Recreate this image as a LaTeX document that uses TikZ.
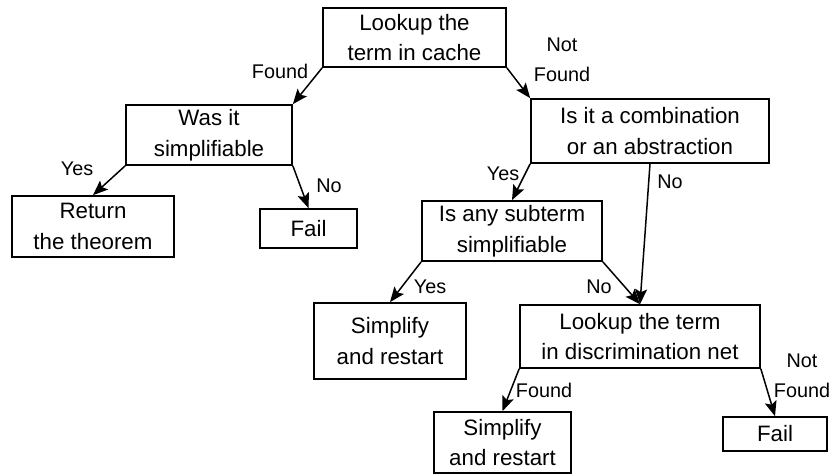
\documentclass[tikz,border=0pt]{standalone}
\usepackage{fontspec}
\setmainfont{Liberation Sans}
\usetikzlibrary{arrows.meta}
\begin{document}
\begin{tikzpicture}[x=1pt,y=-1pt,
  box/.style={draw, line width=1.7pt, align=center, inner sep=0pt, font=\fontsize{22.3}{30.5}\selectfont},
  lbl/.style={font=\fontsize{19.8}{30}\selectfont, inner sep=0pt, align=center},
  arr/.style={line width=1.5pt, -{Stealth[length=15pt,width=12pt,inset=3pt]}},
  ]
\useasboundingbox (0,0) rectangle (833,474);
\node[box, minimum width=183pt, minimum height=59pt] (cache) at (414.5,37.5) {Lookup the\\term in cache};
\node[box, minimum width=166pt, minimum height=60pt] (was) at (209,135) {Was it\\simplifiable};
\node[box, minimum width=162pt, minimum height=61pt] (ret) at (93,226.5) {Return\\the theorem};
\node[box, minimum width=97pt, minimum height=39pt] (failA) at (308.5,228.5) {Fail};
\node[box, minimum width=238pt, minimum height=64pt] (comb) at (650,131) {Is it a combination\\or an abstraction};
\node[box, minimum width=180pt, minimum height=60pt] (sub) at (512,231) {Is any subterm\\simplifiable};
\node[box, minimum width=152pt, minimum height=76pt] (simpA) at (390,341) {Simplify\\and restart};
\node[box, minimum width=240pt, minimum height=63pt] (net) at (640,336.5) {Lookup the term\\in discrimination net};
\node[box, minimum width=137pt, minimum height=61pt] (simpB) at (502.5,442.5) {Simplify\\and restart};
\node[box, minimum width=104pt, minimum height=34pt] (failB) at (775,434) {Fail};

\draw[arr] (cache.south west) -- (was.north east);
\draw[arr] (cache.south east) -- (comb.north west);
\draw[arr] (was.south west) -- (ret.north);
\draw[arr] (was.south east) -- (failA.north);
\draw[arr] (comb.south west) -- (sub.north);
\draw[arr] (comb.south) -- (net.north);
\draw[arr] (sub.south east) -- (net.north);
\draw[arr] (sub.south west) -- (simpA.north);
\draw[arr] (net.south west) -- (simpB.north);
\draw[arr] (net.south east) -- (failB.north);

\node[lbl, anchor=base] (lFoundA) at (280,78) {Found};
\node[lbl] (lNotFoundA) at (562,60) {Not\\Found};
\node[lbl, anchor=base] (lYesA) at (77,175) {Yes};
\node[lbl, anchor=base] (lNoA) at (329,192) {No};
\node[lbl, anchor=base] (lYesB) at (503,180) {Yes};
\node[lbl, anchor=base] (lNoB) at (670,188) {No};
\node[lbl, anchor=base] (lYesC) at (430,293) {Yes};
\node[lbl, anchor=base] (lNoC) at (599,293) {No};
\node[lbl, anchor=base] (lFoundB) at (544,397) {Found};
\node[lbl] (lNotFoundB) at (802,376) {Not\\Found};
\end{tikzpicture}
\end{document}
